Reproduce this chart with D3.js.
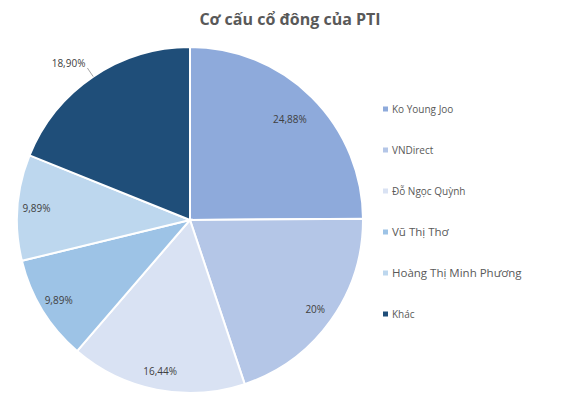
<!DOCTYPE html>
<html>
<head>
<meta charset="utf-8">
<script src="https://cdn.jsdelivr.net/npm/d3@7"></script>
<style>
  body { margin: 0; background: #fff; }
  text { font-family: "Open Sans", "Noto Sans", sans-serif; }
</style>
</head>
<body>
<div id="body"></div>
<script>
// shareholder structure of PTI
var names = ["Ko Young Joo", "VNDirect", "Đỗ Ngọc Quỳnh", "Vũ Thị Thơ", "Hoàng Thị Minh Phương", "Khác"];
var shares = [24.88, 20, 16.44, 9.89, 9.89, 18.90];
var labels = ["24,88%", "20%", "16,44%", "9,89%", "9,89%", "18,90%"];
var colors = ["#8eaadb", "#b4c6e7", "#d9e2f3", "#9dc3e6", "#bdd7ee", "#1f4e79"];

var width = 570, height = 403;
var radius = 173;
var cx = 190, cy = 220;

var svg = d3.select("#body")
  .append("svg")
  .attr("width", width)
  .attr("height", height);

svg.append("text")
  .attr("x", 290)
  .attr("y", 25)
  .attr("text-anchor", "middle")
  .attr("font-size", "16px")
  .attr("font-weight", "bold")
  .attr("fill", "#595959")
  .text("Cơ cấu cổ đông của PTI");

var data = names.map(function(n, i) {
  return {name: n, value: shares[i], label: labels[i], color: colors[i]};
});

var pie = d3.pie()
  .sort(null)
  .value(function(d) { return d.value; });

var arc = d3.arc()
  .innerRadius(0)
  .outerRadius(radius);

var chart = svg.append("g")
  .attr("transform", "translate(" + cx + "," + cy + ")");

var arcs = pie(data);

chart.selectAll("path")
  .data(arcs)
  .enter().append("path")
  .attr("d", arc)
  .attr("fill", function(d) { return d.data.color; })
  .attr("stroke", "#fff")
  .attr("stroke-width", 2);

function polar(angle, r) {
  return [Math.sin(angle) * r, -Math.cos(angle) * r];
}

// labels inside the slices, last one outside with a leader line
arcs.forEach(function(d, i) {
  var mid = (d.startAngle + d.endAngle) / 2;
  if (i === arcs.length - 1) {
    var p1 = polar(mid, radius);
    var p2 = polar(mid, radius * 1.06);
    chart.append("line")
      .attr("x1", p1[0]).attr("y1", p1[1])
      .attr("x2", p2[0]).attr("y2", p2[1])
      .attr("stroke", "#a6a6a6")
      .attr("stroke-width", 1);
    chart.append("text")
      .attr("x", p2[0] - 2)
      .attr("y", p2[1] - 1)
      .attr("text-anchor", "end")
      .attr("font-size", "10px")
      .attr("fill", "#404040")
      .text(d.data.label);
  } else {
    var k = i === 0 ? 0.82 : 0.89;
    var p = polar(mid, radius * k);
    chart.append("text")
      .attr("x", p[0])
      .attr("y", p[1])
      .attr("dy", "0.35em")
      .attr("text-anchor", "middle")
      .attr("font-size", "10px")
      .attr("fill", "#404040")
      .text(d.data.label);
  }
});

var legendY = d3.scalePoint()
  .domain(names)
  .range([109, 314]);

var legend = svg.selectAll(".legend")
  .data(data)
  .enter().append("g")
  .attr("class", "legend")
  .attr("transform", function(d) { return "translate(383," + legendY(d.name) + ")"; });

legend.append("rect")
  .attr("x", 0)
  .attr("y", -2.5)
  .attr("width", 5)
  .attr("height", 5)
  .attr("fill", function(d) { return d.color; });

legend.append("text")
  .attr("x", 9)
  .attr("dy", "0.35em")
  .attr("font-size", function(d, i) { return (i === 3 || i === 4) ? "11.5px" : "10px"; })
  .attr("fill", "#595959")
  .text(function(d) { return d.name; });
</script>
</body>
</html>
